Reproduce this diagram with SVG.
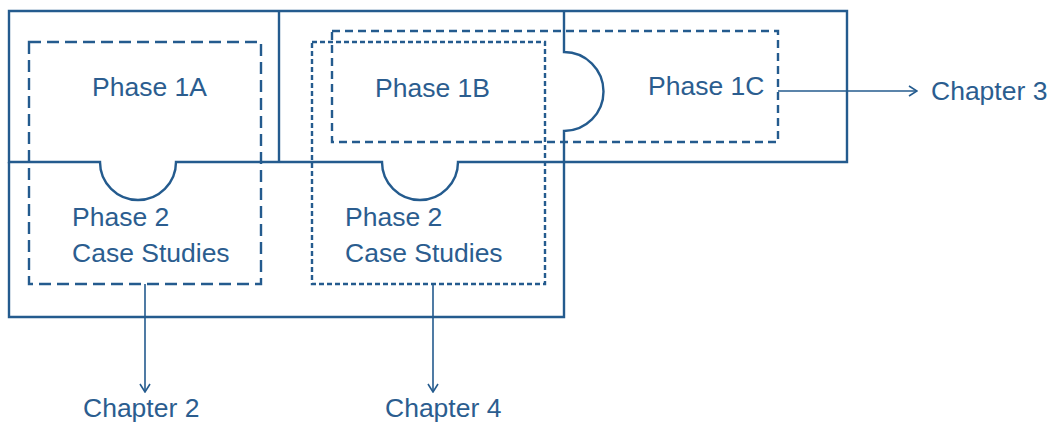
<svg xmlns="http://www.w3.org/2000/svg" width="1054" height="424" viewBox="0 0 1054 424">
  <style>
    .outline { fill: none; stroke: #245B8E; stroke-width: 2.4; stroke-linejoin: miter; }
    .dash-long { fill: none; stroke: #245B8E; stroke-width: 2.4; stroke-dasharray: 12 6; }
    .dash-mid { fill: none; stroke: #245B8E; stroke-width: 2.4; stroke-dasharray: 8 5; }
    .dash-short { fill: none; stroke: #245B8E; stroke-width: 2.4; stroke-dasharray: 5 3; }
    .link { fill: none; stroke: #245B8E; stroke-width: 1.6; }
    .label { font-family: "Liberation Sans", Arial, sans-serif; font-size: 26.5px; fill: #2B5D8F; }
  </style>
  <defs>
    <marker id="arrow" viewBox="0 0 10 12" refX="9" refY="6" markerWidth="10" markerHeight="12" markerUnits="userSpaceOnUse" orient="auto">
      <polyline points="1,1 9,6 1,11" fill="none" stroke="#245B8E" stroke-width="1.6"/>
    </marker>
  </defs>

  <rect width="1054" height="424" fill="#ffffff"/>

  <!-- jigsaw outline: upper band with notches, lower band, bump into Phase 1C -->
  <g id="puzzle-outline">
    <path class="outline" d="M9,11 H847 V162 H458 A38,38 0 0 1 382,162 H176 A38,38 0 0 1 100,162 H9 Z"/>
    <path class="outline" d="M9,162 V317 H564 V131 A39.5,39.5 0 0 0 564,52 V11"/>
    <path class="outline" d="M279,11 V162"/>
  </g>

  <g id="phase-1a-2">
    <rect class="dash-long" x="29" y="42" width="232" height="242"/>
    <text class="label" x="92" y="96">Phase 1A</text>
    <text class="label" x="72" y="226">Phase 2</text>
    <text class="label" x="72" y="262">Case Studies</text>
  </g>

  <g id="phase-1b-2">
    <rect class="dash-short" x="312" y="42" width="233" height="242"/>
    <text class="label" x="375" y="97">Phase 1B</text>
    <text class="label" x="345" y="226">Phase 2</text>
    <text class="label" x="345" y="262">Case Studies</text>
  </g>

  <g id="phase-1b-1c">
    <rect class="dash-mid" x="332" y="31" width="446" height="111"/>
    <text class="label" x="648" y="95">Phase 1C</text>
  </g>

  <g id="chapter-2">
    <text class="label" x="83" y="417">Chapter 2</text>
  </g>
  <g id="chapter-3">
    <text class="label" x="931" y="100">Chapter 3</text>
  </g>
  <g id="chapter-4">
    <text class="label" x="385" y="417">Chapter 4</text>
  </g>

  <g id="connectors">
    <line class="link" x1="145" y1="284" x2="145" y2="392" marker-end="url(#arrow)"/>
    <line class="link" x1="433" y1="284" x2="433" y2="392" marker-end="url(#arrow)"/>
    <line class="link" x1="778" y1="91" x2="917" y2="91" marker-end="url(#arrow)"/>
  </g>
</svg>
